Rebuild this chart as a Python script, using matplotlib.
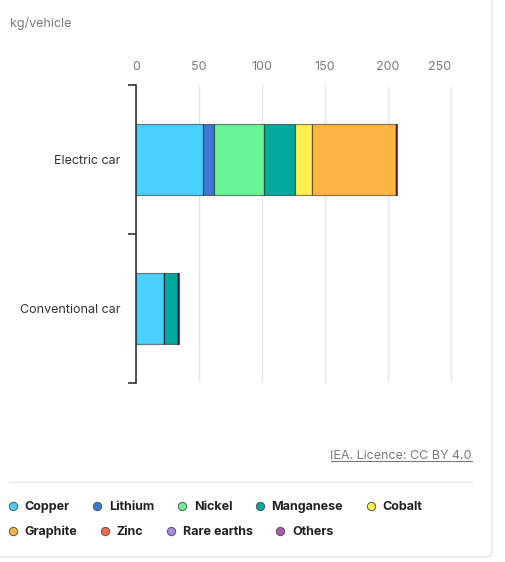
import matplotlib.pyplot as plt
from matplotlib.patches import FancyBboxPatch
from matplotlib.lines import Line2D

# kg per vehicle
cars = ["Electric car", "Conventional car"]
minerals = ["Copper", "Lithium", "Nickel", "Manganese", "Cobalt",
            "Graphite", "Zinc", "Rare earths", "Others"]
copper = [53.2, 22.3]
lithium = [8.9, 0.0]
nickel = [39.9, 0.0]
manganese = [24.5, 11.2]
cobalt = [13.3, 0.0]
graphite = [66.3, 0.0]
zinc = [0.1, 0.1]
rare_earths = [0.5, 0.0]
others = [0.3, 0.3]
xticks = [0, 50, 100, 150, 200, 250]

colors = ["#48D0FF", "#3F78D4", "#68F494", "#03A99E", "#FFF050",
          "#FFB444", "#F26A4B", "#A98BE8", "#A45EA6"]
series = [copper, lithium, nickel, manganese, cobalt, graphite, zinc, rare_earths, others]

plt.rcParams['font.family'] = ['Inter', 'DejaVu Sans']

W, H = 505, 562
fig = plt.figure(figsize=(W / 100, H / 100), dpi=100)
fig.patch.set_facecolor("white")

# card outline
card = FancyBboxPatch((-20 / W, 5 / H), 512 / W, 600 / H,
                      boxstyle="round,pad=0,rounding_size=0.012",
                      transform=fig.transFigure, fc="white", ec="#E4E4E4", lw=1,
                      zorder=-10)
fig.patches.append(card)

ax = fig.add_axes([136 / W, 1 - 383 / H, 325 / W, 298 / H])
ax.set_facecolor("none")

y = list(range(len(cars)))
left = [0.0] * len(cars)
for name, vals, c in zip(minerals, series, colors):
    ax.barh(y, vals, left=left, height=0.48, color=c,
            edgecolor=(0, 0, 0, 0.45), linewidth=0.9, zorder=3)
    left = [l + v for l, v in zip(left, vals)]

ax.set_xlim(0, 258)
ax.set_ylim(1.5, -0.5)
ax.xaxis.tick_top()
ax.set_xticks(xticks)
ax.set_xticklabels([str(t) for t in xticks])
ax.tick_params(axis="x", length=0, pad=8.5, labelsize=9, labelcolor="#7A7A7A")
ax.get_xticklabels()[-1].set_horizontalalignment("right")
ax.grid(axis="x", color="#E6E6E6", lw=1, zorder=0)

ax.set_yticks(y)
ax.set_yticklabels(cars)
ax.set_yticks([-0.5, 0.5, 1.5], minor=True)
ax.tick_params(axis="y", which="major", length=0, pad=11, labelsize=9, labelcolor="#333333")
ax.tick_params(axis="y", which="minor", length=6, width=1.2, color="#333333")

for s in ["top", "right", "bottom"]:
    ax.spines[s].set_visible(False)
ax.spines["left"].set_color("#333333")
ax.spines["left"].set_linewidth(1.2)

fig.text(10 / W, 1 - 24 / H, "kg/vehicle", fontsize=9, color="#7A7A7A", va="center")

src = fig.text(472 / W, 1 - 456 / H, "IEA. Licence: CC BY 4.0", fontsize=9,
               color="#7A7A7A", ha="right", va="center")
fig.canvas.draw()
bb = src.get_window_extent().transformed(fig.transFigure.inverted())
fig.add_artist(Line2D([bb.x0, bb.x1], [bb.y0 + 1 / H, bb.y0 + 1 / H],
                      transform=fig.transFigure, color="#7A7A7A", lw=0.8))

fig.add_artist(Line2D([10 / W, 472 / W], [1 - 482 / H, 1 - 482 / H],
                      transform=fig.transFigure, color="#E6E6E6", lw=1))

handles = [Line2D([], [], marker="o", ls="", markersize=6, markerfacecolor=c,
                  markeredgecolor="#555555", markeredgewidth=0.7) for c in colors]
leg1 = fig.legend(handles[:5], minerals[:5], loc="center left",
                  bbox_to_anchor=(-6 / W, 1 - 507 / H), ncol=5, frameon=False,
                  handletextpad=0.35, columnspacing=1.6, handlelength=1.2,
                  prop={"weight": "bold", "size": 9})
leg2 = fig.legend(handles[5:], minerals[5:], loc="center left",
                  bbox_to_anchor=(-6 / W, 1 - 532 / H), ncol=4, frameon=False,
                  handletextpad=0.35, columnspacing=1.6, handlelength=1.2,
                  prop={"weight": "bold", "size": 9})
for leg in (leg1, leg2):
    for t in leg.get_texts():
        t.set_color("#222222")

fig.savefig("out.png", dpi=100)
